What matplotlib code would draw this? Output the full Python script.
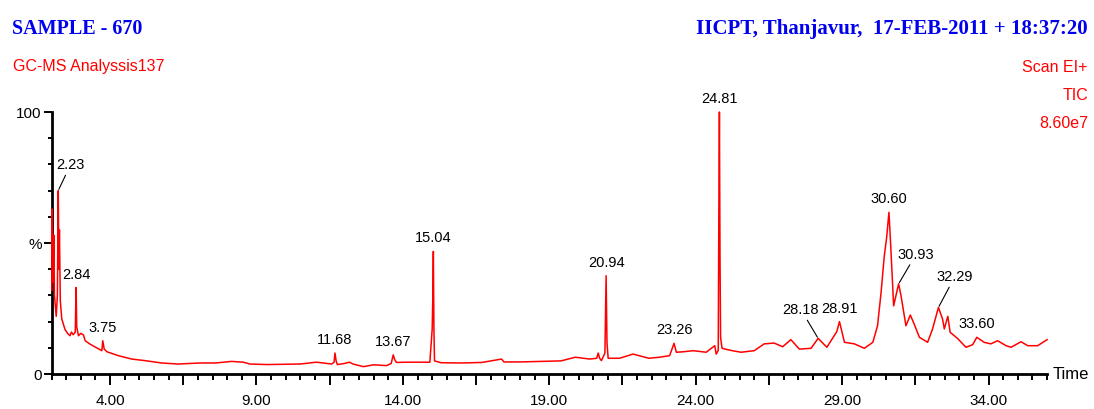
import numpy as np
import matplotlib
matplotlib.use('Agg')
import matplotlib.pyplot as plt
from matplotlib.ticker import FixedLocator, MultipleLocator

# total ion chromatogram: retention time (min) and relative abundance (%)
rt_min = [
    2.01, 2.02, 2.05, 2.08, 2.10, 2.16, 2.20, 2.23, 2.25, 2.27, 2.30, 2.35,
    2.46, 2.55, 2.63, 2.68, 2.74, 2.81, 2.83, 2.84, 2.86, 2.92, 3.00, 3.09,
    3.15, 3.30, 3.49, 3.72, 3.75, 3.80, 3.89, 4.28, 4.74, 5.19, 5.76, 6.32,
    7.07, 7.60, 8.15, 8.55, 8.78, 9.35, 10.48, 11.05, 11.57, 11.65, 11.68, 11.72,
    11.76, 12.00, 12.17, 12.30, 12.65, 13.00, 13.44, 13.60, 13.67, 13.72, 13.78, 14.13,
    14.92, 15.00, 15.02, 15.04, 15.06, 15.08, 15.30, 16.00, 16.70, 17.37, 17.45, 18.00,
    18.70, 19.40, 19.89, 20.38, 20.62, 20.67, 20.72, 20.78, 20.90, 20.94, 20.97, 21.01,
    21.40, 21.86, 22.40, 22.77, 23.11, 23.26, 23.34, 23.60, 23.91, 24.36, 24.65, 24.70,
    24.77, 24.79, 24.81, 24.83, 24.85, 24.90, 25.20, 25.55, 26.00, 26.34, 26.68, 26.97,
    27.25, 27.54, 27.94, 28.18, 28.48, 28.82, 28.91, 29.08, 29.42, 29.76, 30.05, 30.21,
    30.33, 30.44, 30.52, 30.60, 30.66, 30.76, 30.93, 31.01, 31.18, 31.33, 31.46, 31.64,
    31.92, 32.09, 32.29, 32.43, 32.49, 32.61, 32.69, 32.94, 33.23, 33.46, 33.60, 33.85,
    34.08, 34.31, 34.60, 34.77, 35.11, 35.34, 35.68, 36.00,
]
rel_abund = [
    32, 63, 35, 53, 30, 22, 30, 70, 40, 55, 28, 21,
    17, 15.5, 14.6, 16, 15, 16, 28, 33, 18, 14.6, 15.5, 14.9,
    12.7, 11.5, 10.3, 8.9, 12.7, 9.5, 8.5, 7.0, 5.7, 5.1, 4.2, 3.8,
    4.2, 4.2, 4.8, 4.5, 3.8, 3.6, 3.8, 4.5, 3.8, 4.5, 8.0, 5.0,
    3.6, 4.0, 4.5, 3.8, 2.8, 3.5, 3.2, 4.0, 7.3, 5.5, 4.4, 4.5,
    4.5, 17, 28, 46.8, 17, 5.0, 4.3, 4.2, 4.4, 5.7, 4.6, 4.6,
    4.8, 5.0, 6.4, 5.7, 6.0, 8.0, 6.0, 5.1, 8.0, 37.5, 12.0, 6.0,
    6.0, 7.6, 6.0, 6.4, 7.0, 11.7, 8.3, 8.5, 8.9, 8.3, 10.8, 7.6,
    9.0, 60, 100, 45, 14, 9.8, 9.0, 8.3, 8.9, 11.5, 11.8, 10.4,
    13.1, 9.5, 9.8, 13.6, 10.2, 16.2, 20.0, 12.1, 11.5, 9.8, 12.1, 18.4,
    31, 45, 52, 61.7, 49, 26, 34.4, 30, 18.4, 22.5, 19.1, 14,
    12.1, 17.2, 25.4, 21, 17.2, 22, 15.9, 13.6, 10.2, 11.2, 14, 12.1,
    11.5, 12.7, 10.8, 10.2, 12.3, 10.8, 10.8, 13.1,
]

# labelled peaks
peak_rt = [2.23, 2.84, 3.75, 11.68, 13.67, 15.04, 20.94, 23.26, 24.81,
           28.18, 28.91, 30.60, 30.93, 32.29, 33.60]
# peaks whose label sits off to the side with a leader line (offset in points)
leader = {2.23: (9, 19), 28.18: (-12.5, 21), 30.93: (12.7, 21.6), 32.29: (12, 22.5)}

x_labels = ['4.00', '9.00', '14.00', '19.00', '24.00', '29.00', '34.00']
x_major = [4, 6.5, 9, 11.5, 14, 16.5, 19, 21.5, 24, 26.5, 29, 31.5, 34]

RED = '#ff0000'
BLUE = '#0000ee'
sans = ['Liberation Sans', 'DejaVu Sans']
serif = ['Liberation Serif', 'DejaVu Serif']

fig = plt.figure(figsize=(10.94, 4.10), dpi=100)
ax = fig.add_axes([0.0471, 0.0854, 0.910, 0.639])

ax.plot(rt_min, rel_abund, color=RED, lw=1.1, clip_on=False, zorder=3)
ax.set_xlim(2.0, 36.0)
ax.set_ylim(0, 100)

for s in ['top', 'right']:
    ax.spines[s].set_visible(False)
for s in ['left', 'bottom']:
    ax.spines[s].set_linewidth(2)

# x ticks: labels every 5 min, long ticks every 2.5, short every 0.5
ax.xaxis.set_major_locator(FixedLocator(x_major))
lab = []
for v in x_major:
    txt = '%.2f' % v
    lab.append(txt if txt in x_labels else '')
ax.set_xticklabels(lab)
ax.xaxis.set_minor_locator(MultipleLocator(0.5))
ax.tick_params(axis='x', which='major', length=8, width=1.4, pad=6,
               labelsize=11)
ax.tick_params(axis='x', which='minor', length=4.5, width=1.4)

ax.set_yticks([0, 50, 100])
ax.set_yticklabels(['0', '%', '100'])
ax.yaxis.set_minor_locator(MultipleLocator(10))
ax.tick_params(axis='y', which='major', length=6, width=1.4, pad=1,
               labelsize=11)
ax.tick_params(axis='y', which='minor', length=3, width=1.4)
for t in ax.get_xticklabels() + ax.get_yticklabels():
    t.set_family(sans)

# peak labels
for p in peak_rt:
    y = np.interp(p, rt_min, rel_abund)
    txt = '%.2f' % p
    if p in leader:
        ax.annotate(txt, xy=(p, y), xytext=leader[p], textcoords='offset points',
                    ha='center', va='center', fontsize=10.5, family=sans,
                    arrowprops=dict(arrowstyle='-', color='black', lw=0.8,
                                    shrinkA=1, shrinkB=1),
                    annotation_clip=False)
    else:
        ax.annotate(txt, xy=(p, y), xytext=(0, 10), textcoords='offset points',
                    ha='center', va='center', fontsize=10.5, family=sans,
                    annotation_clip=False)

# header texts
W, H = 1094.0, 410.0
fig.text(12 / W, 1 - 29 / H, 'SAMPLE - 670', color=BLUE, fontsize=14.5,
         fontweight='bold', family=serif, ha='left', va='center')
fig.text(1088 / W, 1 - 29 / H, 'IICPT, Thanjavur,  17-FEB-2011 + 18:37:20',
         color=BLUE, fontsize=15, fontweight='bold', family=serif,
         ha='right', va='center')
fig.text(13 / W, 1 - 67 / H, 'GC-MS Analyssis137', color=RED, fontsize=11.5,
         family=sans, ha='left', va='center')
fig.text(1087 / W, 1 - 68 / H, 'Scan EI+', color=RED, fontsize=11.5,
         family=sans, ha='right', va='center')
fig.text(1088 / W, 1 - 95 / H, 'TIC', color=RED, fontsize=11.5,
         family=sans, ha='right', va='center')
fig.text(1088 / W, 1 - 123 / H, '8.60e7', color=RED, fontsize=11.5,
         family=sans, ha='right', va='center')
fig.text(1053 / W, 1 - 375 / H, 'Time', color='black', fontsize=12,
         family=sans, ha='left', va='center')

fig.savefig('out.png', dpi=100, facecolor='white')
